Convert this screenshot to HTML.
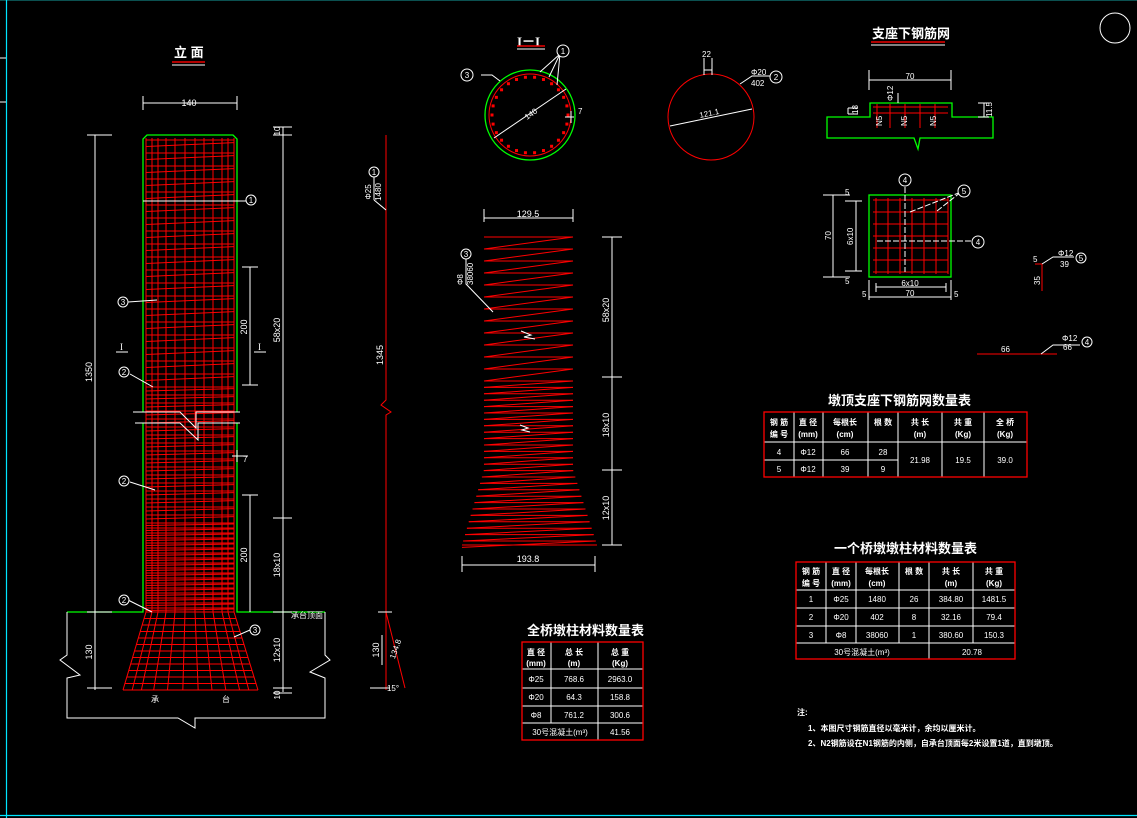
<!DOCTYPE html>
<html><head><meta charset="utf-8"><style>
html,body{margin:0;padding:0;background:#000;}
svg{display:block}
text{font-family:"Liberation Sans","Noto Sans CJK SC",sans-serif;fill:#fff;}
.t{font-size:13px;font-weight:bold}
.s{font-size:9px}
.x{font-size:8px}
</style></head><body>
<svg id="d" width="1137" height="818" viewBox="0 0 1137 818" xmlns="http://www.w3.org/2000/svg">
<rect width="1137" height="818" fill="#000"/>
<line x1="0" y1="0.5" x2="1137" y2="0.5" stroke="#0b5050"/>
<line x1="6.5" y1="0" x2="6.5" y2="818" stroke="#00e5ff" stroke-width="1.2"/>
<line x1="0" y1="815.5" x2="1137" y2="815.5" stroke="#00e5ff" stroke-width="1.2"/>
<line x1="0" y1="58" x2="6" y2="58" stroke="#fff"/><line x1="0" y1="102" x2="6" y2="102" stroke="#fff"/>
<circle cx="1115" cy="28" r="15" fill="none" stroke="#fff"/>

<text x="174" y="57" class="t">立 面</text>
<line x1="172" y1="62" x2="205" y2="62" stroke="#e00" stroke-width="1.5"/><line x1="172" y1="65" x2="205" y2="65" stroke="#fff"/>
<text x="517" y="46" class="t" style="font-family:'Liberation Serif',serif">I－I</text>
<line x1="517" y1="46" x2="545" y2="46" stroke="#e00" stroke-width="1.5"/><line x1="517" y1="49" x2="545" y2="49" stroke="#fff"/>
<text x="872" y="38" class="t">支座下钢筋网</text>
<line x1="871" y1="42" x2="945" y2="42" stroke="#e00" stroke-width="1.5"/><line x1="871" y1="45" x2="945" y2="45" stroke="#fff"/>

<g id="r" fill="none" stroke="#f00" stroke-width="1"></g>

<g fill="none" stroke="#0f0" stroke-width="1.3">
<path d="M143 412 V139 L147 135 H233 L237 139 V412"/>
<path d="M143 423 V612 H67 M237 423 V612 H325"/>
</g>
<g fill="none" stroke="#fff">
<path d="M133 412 H180 L196 428 V412 H240 M135 423 H180 L198 440 V423 H240"/>
<path d="M67 612 V655 L60 660 L80 675 L67 678 V718 H178 L195 728 V718 H325 V678 L310 672 L330 660 L325 655 V612"/>
<path d="M95 135 V690 M87 135 H112 M87 612 H112 M87 688 H112"/>
<path d="M143 96 V110 M237 96 V110 M143 103 H237"/>
<path d="M283 127 V692 M273 127 H292 M273 135 H292 M273 518 H292 M273 612 H292 M273 688 H292 M273 693 H292"/>
<path d="M250 267 V385 M242 267 H258 M242 385 H258 M250 495 V612 M242 495 H258"/>
<path d="M116 352 H128 M254 352 H266"/>
<path d="M232 456 H248 M237 450 V462"/>
<path d="M143 201 H250 M157 300 L128 302 M153 387 L130 374 M155 490 L130 482 M152 612 L128 600 M234 637 L250 630"/>
</g>
<g stroke="#fff" fill="#000">
<circle cx="251" cy="200" r="5"/><circle cx="123" cy="302" r="5"/><circle cx="124" cy="372" r="5"/><circle cx="124" cy="481" r="5"/><circle cx="124" cy="600" r="5"/><circle cx="255" cy="630" r="5"/>
</g>
<g class="x" text-anchor="middle">
<text x="251" y="203">1</text><text x="123" y="305">3</text><text x="124" y="375">2</text><text x="124" y="484">2</text><text x="124" y="603">2</text><text x="255" y="633">3</text>
</g>
<text x="189" y="106" class="s" text-anchor="middle">140</text>
<text x="120" y="350" class="s" style="font-family:'Liberation Serif',serif">I</text><text x="258" y="350" class="s" style="font-family:'Liberation Serif',serif">I</text>
<text x="243" y="462" class="x">7</text>
<text x="291" y="618" class="x">承台顶面</text>
<text x="151" y="702" class="x">承</text><text x="222" y="702" class="x">台</text>
<g class="s" text-anchor="middle">
<text transform="translate(92,372) rotate(-90)">1350</text>
<text transform="translate(92,652) rotate(-90)">130</text>
<text transform="translate(280,330) rotate(-90)">58x20</text>
<text transform="translate(280,565) rotate(-90)">18x10</text>
<text transform="translate(280,650) rotate(-90)">12x10</text>
<text transform="translate(280,131) rotate(-90)" class="x">10</text>
<text transform="translate(280,695) rotate(-90)" class="x">10</text>
<text transform="translate(247,327) rotate(-90)">200</text>
<text transform="translate(247,555) rotate(-90)">200</text>
</g>

<path d="M386 135 V400 L381 405 L391 412 L386 415 V690" stroke="#f00" fill="none"/>
<path d="M386 612 L405 688" stroke="#f00" fill="none"/>
<path d="M374 200 L386 210 M374 168 V200 M382 635 V665 M370 688 H390 M378 612 H392" stroke="#fff" fill="none"/>
<circle cx="374" cy="172" r="5" stroke="#fff"/><text x="374" y="175" class="x" text-anchor="middle">1</text>
<g class="x" text-anchor="middle">
<text transform="translate(371,192) rotate(-90)">Φ25</text>
<text transform="translate(381,192) rotate(-90)">1480</text>
<text transform="translate(383,355) rotate(-90)" class="s">1345</text>
<text transform="translate(379,650) rotate(-90)" class="s">130</text>
<text transform="translate(398,650) rotate(-70)">134.8</text>
<text x="393" y="691">15°</text>
</g>

<circle cx="530" cy="115" r="45" fill="none" stroke="#0f0" stroke-width="1.3"/>
<circle cx="530" cy="115" r="41" fill="none" stroke="#f00"/>
<g id="dots" fill="#f00"></g>
<path d="M494 138 L566 89 M481 75 H492 L500 81 M560 54 L540 72 M560 54 L549 77 M560 54 L557 85 M565 117 H574 M571 111 V123" stroke="#fff" fill="none"/>
<circle cx="467" cy="75" r="6" stroke="#fff"/><text x="467" y="78" class="x" text-anchor="middle">3</text>
<circle cx="563" cy="51" r="6" stroke="#fff"/><text x="563" y="54" class="x" text-anchor="middle">1</text>
<text x="578" y="114" class="x">7</text>
<text transform="translate(527,120) rotate(-35)" class="x">140</text>
<circle cx="711" cy="117" r="43" fill="none" stroke="#f00"/>
<path d="M670 126 L752 109 M704 58 V75 M712 58 V75 M704 70 H712 M740 84 L752 76 H772" stroke="#fff" fill="none"/>
<circle cx="776" cy="77" r="6" stroke="#fff"/><text x="776" y="80" class="x" text-anchor="middle">2</text>
<text x="702" y="57" class="x">22</text>
<text x="751" y="75" class="x">Φ20</text><text x="751" y="86" class="x">402</text>
<text transform="translate(700,118) rotate(-12)" class="x">121.1</text>

<path d="M484 209 V222 M573 209 V222 M484 218 H573 M462 556 V572 M595 556 V572 M462 565 H595 M612 237 V545 M602 237 H622 M602 377 H622 M602 470 H622 M602 545 H622 M466 256 V284 L493 312" stroke="#fff" fill="none"/>
<path d="M521 331 L531 335 L524 337 L535 339 M520 425 L528 428 L522 430 L530 432" stroke="#fff" fill="none"/>
<circle cx="466" cy="254" r="5" stroke="#fff"/><text x="466" y="257" class="x" text-anchor="middle">3</text>
<text transform="translate(463,285) rotate(-90)" class="x">Φ8</text>
<text transform="translate(473,285) rotate(-90)" class="x">38060</text>
<text x="528" y="217" class="s" text-anchor="middle">129.5</text>
<text x="528" y="562" class="s" text-anchor="middle">193.8</text>
<g class="s" text-anchor="middle">
<text transform="translate(609,310) rotate(-90)">58x20</text>
<text transform="translate(609,425) rotate(-90)">18x10</text>
<text transform="translate(609,508) rotate(-90)">12x10</text>
</g>

<path d="M827 117 H870 V103 H952 V117 H993 V138 H920 L918 149 L914 138 H827 Z" stroke="#0f0" fill="none" stroke-width="1.3"/>
<rect x="869" y="195" width="82" height="82" fill="none" stroke="#0f0" stroke-width="1.3"/>
<path d="M869 70 V90 M951 70 V90 M869 80 H951 M898 93 V103 M848 108 V114 M848 108 H858 M848 114 H858 M978 103 H989 M978 117 H989 M984 103 V117" stroke="#fff" fill="none"/>
<path d="M823 195 H850 M823 277 H850 M833 195 V277 M845 201 H862 M845 271 H862 M856 201 V271 M869 280 V300 M951 280 V300 M869 297 H951 M876 287 H946 M876 283 V292 M946 283 V292" stroke="#fff" fill="none"/>
<path d="M905 187 V272 M877 241 H972 M910 212 L961 192 M937 211 L961 192" stroke="#fff" stroke-dasharray="6 2" fill="none"/>
<circle cx="905" cy="180" r="6" stroke="#fff"/><text x="905" y="183" class="x" text-anchor="middle">4</text>
<circle cx="978" cy="242" r="6" stroke="#fff"/><text x="978" y="245" class="x" text-anchor="middle">4</text>
<circle cx="964" cy="191" r="6" stroke="#fff"/><text x="964" y="194" class="x" text-anchor="middle">5</text>
<text x="910" y="79" class="x" text-anchor="middle">70</text>
<text x="910" y="296" class="x" text-anchor="middle">70</text>
<text x="910" y="286" class="x" text-anchor="middle">6x10</text>
<text x="862" y="297" class="x">5</text><text x="954" y="297" class="x">5</text>
<text x="845" y="195" class="x">5</text><text x="845" y="284" class="x">5</text>
<text transform="translate(831,240) rotate(-90)" class="x">70</text>
<text transform="translate(853,245) rotate(-90)" class="x">6x10</text>
<text transform="translate(858,114) rotate(-90)" class="x">18</text>
<text transform="translate(992,117) rotate(-90)" class="x">11.5</text>
<text transform="translate(893,101) rotate(-90)" class="x">Φ12</text>
<g class="x"><text transform="translate(882,126) rotate(-90)">N5</text><text transform="translate(907,126) rotate(-90)">N5</text><text transform="translate(936,126) rotate(-90)">N5</text></g>
<path d="M1035 264 H1042 V291" stroke="#f00" fill="none"/>
<path d="M1042 264 L1053 257 H1074" stroke="#fff" fill="none"/>
<circle cx="1081" cy="258" r="5" stroke="#fff"/><text x="1081" y="261" class="x" text-anchor="middle">5</text>
<text x="1033" y="262" class="x">5</text><text transform="translate(1040,285) rotate(-90)" class="x">35</text>
<text x="1058" y="256" class="x">Φ12</text><text x="1060" y="267" class="x">39</text>
<path d="M977 354 H1057" stroke="#f00" fill="none"/>
<path d="M1041 354 L1053 345 H1080" stroke="#fff" fill="none"/>
<circle cx="1087" cy="342" r="5" stroke="#fff"/><text x="1087" y="345" class="x" text-anchor="middle">4</text>
<text x="1001" y="352" class="x">66</text>
<text x="1062" y="341" class="x">Φ12</text><text x="1063" y="350" class="x">66</text>

<text x="828" y="405" class="t">墩顶支座下钢筋网数量表</text>
<g stroke="#fff" fill="none">
<path d="M764 442 H1027 M764 460 H898 M794 412 V477 M823 412 V477 M868 412 V477 M898 412 V477 M942 412 V477 M984 412 V477"/>
</g>
<rect x="764" y="412" width="263" height="65" fill="none" stroke="#f00" stroke-width="1.3"/>
<g class="x" text-anchor="middle" font-weight="bold">
<text x="779" y="425">钢 筋</text><text x="779" y="437">编 号</text>
<text x="808" y="425">直 径</text><text x="808" y="437">(mm)</text>
<text x="845" y="425">每根长</text><text x="845" y="437">(cm)</text>
<text x="883" y="425">根 数</text>
<text x="920" y="425">共 长</text><text x="920" y="437">(m)</text>
<text x="963" y="425">共 重</text><text x="963" y="437">(Kg)</text>
<text x="1005" y="425">全 桥</text><text x="1005" y="437">(Kg)</text>
</g>
<g class="x" text-anchor="middle">
<text x="779" y="455">4</text><text x="808" y="455">Φ12</text><text x="845" y="455">66</text><text x="883" y="455">28</text>
<text x="779" y="472">5</text><text x="808" y="472">Φ12</text><text x="845" y="472">39</text><text x="883" y="472">9</text>
<text x="920" y="463">21.98</text><text x="963" y="463">19.5</text><text x="1005" y="463">39.0</text>
</g>

<text x="834" y="553" class="t">一个桥墩墩柱材料数量表</text>
<g stroke="#fff" fill="none">
<path d="M796 590 H1015 M796 608 H1015 M796 626 H1015 M796 643 H1015 M826 562 V643 M856 562 V643 M899 562 V643 M929 562 V659 M973 562 V643"/>
</g>
<rect x="796" y="562" width="219" height="97" fill="none" stroke="#f00" stroke-width="1.3"/>
<g class="x" text-anchor="middle" font-weight="bold">
<text x="811" y="574">钢 筋</text><text x="811" y="586">编 号</text>
<text x="841" y="574">直 径</text><text x="841" y="586">(mm)</text>
<text x="877" y="574">每根长</text><text x="877" y="586">(cm)</text>
<text x="914" y="574">根 数</text>
<text x="951" y="574">共 长</text><text x="951" y="586">(m)</text>
<text x="994" y="574">共 重</text><text x="994" y="586">(Kg)</text>
</g>
<g class="x" text-anchor="middle">
<text x="811" y="602">1</text><text x="841" y="602">Φ25</text><text x="877" y="602">1480</text><text x="914" y="602">26</text><text x="951" y="602">384.80</text><text x="994" y="602">1481.5</text>
<text x="811" y="620">2</text><text x="841" y="620">Φ20</text><text x="877" y="620">402</text><text x="914" y="620">8</text><text x="951" y="620">32.16</text><text x="994" y="620">79.4</text>
<text x="811" y="638">3</text><text x="841" y="638">Φ8</text><text x="877" y="638">38060</text><text x="914" y="638">1</text><text x="951" y="638">380.60</text><text x="994" y="638">150.3</text>
<text x="862" y="655">30号混凝土(m³)</text><text x="972" y="655">20.78</text>
</g>

<text x="527" y="635" class="t">全桥墩柱材料数量表</text>
<g stroke="#fff" fill="none">
<path d="M522 669 H643 M522 688 H643 M522 706 H643 M522 723 H643 M551 642 V723 M598 642 V740"/>
</g>
<rect x="522" y="642" width="121" height="98" fill="none" stroke="#f00" stroke-width="1.3"/>
<g class="x" text-anchor="middle" font-weight="bold">
<text x="536" y="655">直 径</text><text x="536" y="666">(mm)</text>
<text x="574" y="655">总 长</text><text x="574" y="666">(m)</text>
<text x="620" y="655">总 重</text><text x="620" y="666">(Kg)</text>
</g>
<g class="x" text-anchor="middle">
<text x="536" y="682">Φ25</text><text x="574" y="682">768.6</text><text x="620" y="682">2963.0</text>
<text x="536" y="700">Φ20</text><text x="574" y="700">64.3</text><text x="620" y="700">158.8</text>
<text x="536" y="718">Φ8</text><text x="574" y="718">761.2</text><text x="620" y="718">300.6</text>
<text x="560" y="735">30号混凝土(m³)</text><text x="620" y="735">41.56</text>
</g>

<text x="797" y="715" class="x" font-weight="bold">注:</text>
<text x="808" y="731" class="x" font-weight="bold">1、本图尺寸钢筋直径以毫米计，余均以厘米计。</text>
<text x="808" y="746" class="x" font-weight="bold">2、N2钢筋设在N1钢筋的内侧，自承台顶面每2米设置1道，直到墩顶。</text>
</svg>
<script>
var NS="http://www.w3.org/2000/svg",R=document.getElementById('r');
function L(a,b,c,d){var l=document.createElementNS(NS,'line');l.setAttribute('x1',a);l.setAttribute('y1',b);l.setAttribute('x2',c);l.setAttribute('y2',d);R.appendChild(l);}
var xs=[146,152,158,166,175,185,195,204,213,222,228,234];
xs.forEach(function(x){L(x,138,x,612);});
var y=140;
while(y<612){var st=y<385?13:(y<520?8:5);L(146,y,234,y);L(146,y+st*0.5,234,y+st*0.2);y+=st;}
var bx0=123,bx1=258;
xs.forEach(function(x){var t=(x-146)/88;L(x,612,bx0+t*(bx1-bx0),690);});
for(var k=0;k<=12;k++){var yy=612+k*6.5,f=k/12;L(146-f*23,yy,234+f*24,yy);}
y=237;
while(y<545){var st=y<378?12:6.4;var f=y<470?0:(y-470)/75;var a=484-f*22,b=573+f*24;
 var f2=y+st<470?0:Math.min(1,(y+st-470)/75);L(a,y,b,y);L(b,y,484-f2*22,y+st);y+=st;}
L(462,545,597,545);
var D=document.getElementById('dots');
for(var i=0;i<26;i++){var an=i/26*2*Math.PI;var r=document.createElementNS(NS,'rect');r.setAttribute('x',530+38*Math.cos(an)-1.5);r.setAttribute('y',115+38*Math.sin(an)-1.5);r.setAttribute('width',3);r.setAttribute('height',3);D.appendChild(r);}
for(var i=0;i<2;i++)L(873,107+i*6,948,107+i*6);
[877,890,905,920,935].forEach(function(x){L(x,104,x,128);});
for(var i=0;i<7;i++){L(873,200+i*12,948,200+i*12);L(876+i*12,198,876+i*12,274);}
</script>
</body></html>
